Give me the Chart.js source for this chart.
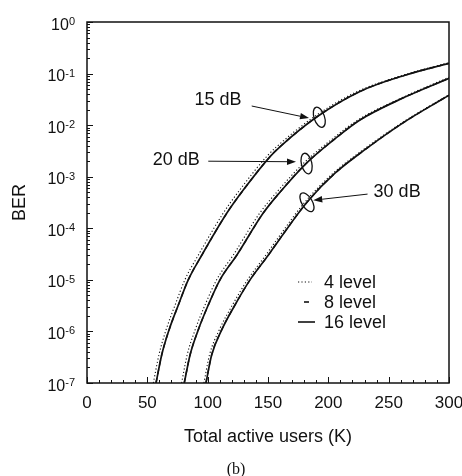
<!DOCTYPE html>
<html>
<head>
<meta charset="utf-8">
<script src="https://cdn.jsdelivr.net/npm/chart.js@4.4.1/dist/chart.umd.min.js"></script>
<style>
  html, body { margin: 0; padding: 0; background: #ffffff; }
  #wrap { width: 462px; height: 476px; }
</style>
</head>
<body>
<div id="wrap"><canvas id="ber" width="462" height="476"></canvas></div>
<script>
// BER versus number of active users, for SNR 15 / 20 / 30 dB and 4, 8, 16 levels.
// Users in thousands (K); BER values per curve.

// 15 dB
const users15 = [57.2, 61.9, 68.0, 75.7, 83.9, 95.1, 115.8, 129.5, 151.7, 159.9, 190.6, 226.2, 263.5, 300];
const ber15 = [1e-7, 3.5e-7, 1.07e-6, 3.25e-6, 1.0e-5, 3.0e-5, 1.95e-4, 5.5e-4, 2.45e-3, 3.8e-3, 1.45e-2, 4.5e-2, 9.3e-2, 0.158];
const users15L4 = [55.0, 59.6, 65.5, 73.0, 81.1, 92.2, 112.8, 126.5, 148.8, 157.1, 188.2, 224.2, 262.0, 300];
const ber15L4 = [1e-7, 3.5e-7, 1.07e-6, 3.25e-6, 1.0e-5, 3.0e-5, 1.95e-4, 5.5e-4, 2.45e-3, 3.8e-3, 1.45e-2, 4.5e-2, 9.3e-2, 0.163];

// 20 dB
const users20 = [80.6, 85.4, 92.2, 100.5, 110.2, 124.1, 145.9, 159.9, 181.5, 204.0, 226.2, 263.5, 300];
const ber20 = [1e-7, 3.5e-7, 1.07e-6, 3.25e-6, 1.0e-5, 3.0e-5, 1.95e-4, 5.0e-4, 1.8e-3, 5.1e-3, 1.26e-2, 3.5e-2, 8.1e-2];
const users20L4 = [78.4, 83.0, 89.6, 97.8, 107.4, 121.1, 143.0, 157.2, 179.2, 202.0, 224.5, 262.2, 300];
const ber20L4 = [1e-7, 3.5e-7, 1.07e-6, 3.25e-6, 1.0e-5, 3.0e-5, 1.95e-4, 5.0e-4, 1.8e-3, 5.1e-3, 1.26e-2, 3.5e-2, 8.5e-2];

// 30 dB
const users30 = [98.6, 103.3, 111.6, 122.6, 135.1, 150.2, 159.9, 182.3, 205.5, 231.8, 263.5, 300];
const ber30 = [1e-7, 3.5e-7, 1.07e-6, 3.25e-6, 1.0e-5, 3.0e-5, 6.3e-5, 3.2e-4, 1.17e-3, 3.55e-3, 1.17e-2, 3.8e-2];
const users30L4 = [96.9, 101.5, 109.6, 120.5, 133.0, 148.1, 157.9, 180.5, 204.0, 230.5, 262.5, 300];
const ber30L4 = [1e-7, 3.5e-7, 1.07e-6, 3.25e-6, 1.0e-5, 3.0e-5, 6.3e-5, 3.2e-4, 1.17e-3, 3.55e-3, 1.17e-2, 3.9e-2];

// Axis ticks
const xTickValues = [0, 50, 100, 150, 200, 250, 300];
const xMinorTicks = [10, 20, 30, 40, 60, 70, 80, 90, 110, 120, 130, 140, 160, 170, 180, 190, 210, 220, 230, 240, 260, 270, 280, 290];
const yExponents = [0, -1, -2, -3, -4, -5, -6, -7];
const yMinorMultipliers = [2, 3, 4, 5, 6, 7, 8, 9];

// Texts
const snrLabels = ['15 dB', '20 dB', '30 dB'];
const levelLabels = ['4 level', '8 level', '16 level'];
const xTitle = 'Total active users (K)';
const yTitle = 'BER';
const panelTag = '(b)';

const pts = (xs, ys) => xs.map((x, i) => ({ x: x, y: ys[i] }));

const SANS = '"Liberation Sans", Arial, Helvetica, sans-serif';

const styleDotted = { borderColor: '#111', borderWidth: 1.1, borderDash: [1.2, 2.2] };
const styleDashed = { borderColor: '#111', borderWidth: 1.4, borderDash: [5, 4] };
const styleSolid  = { borderColor: '#111', borderWidth: 1.7, borderDash: [] };

function curve(label, data, style) {
  return Object.assign({
    label: label,
    data: data,
    pointRadius: 0,
    fill: false,
    cubicInterpolationMode: 'monotone',
    borderCapStyle: 'butt'
  }, style);
}

const datasets = [
  curve('15 dB, 4 level', pts(users15L4, ber15L4), styleDotted),
  curve('15 dB, 8 level', pts(users15, ber15), styleDashed),
  curve('15 dB, 16 level', pts(users15, ber15), styleSolid),
  curve('20 dB, 4 level', pts(users20L4, ber20L4), styleDotted),
  curve('20 dB, 8 level', pts(users20, ber20), styleDashed),
  curve('20 dB, 16 level', pts(users20, ber20), styleSolid),
  curve('30 dB, 4 level', pts(users30L4, ber30L4), styleDotted),
  curve('30 dB, 8 level', pts(users30, ber30), styleDashed),
  curve('30 dB, 16 level', pts(users30, ber30), styleSolid)
];

// Callouts: label centre, arrow tail/head and ring centre, in data units
const callouts = [
  { text: snrLabels[0], label: [108.6, 3.1e-2], tail: [136.5, 2.35e-2], head: [184.0, 1.37e-2], ring: [192.5, 1.42e-2], tilt: -0.33 },
  { text: snrLabels[1], label: [74.0, 2.1e-3], tail: [100.5, 2.0e-3], head: [173.2, 1.95e-3], ring: [182.0, 1.8e-3], tilt: -0.23 },
  { text: snrLabels[2], label: [257.0, 5.1e-4], tail: [232.5, 4.6e-4], head: [187.5, 3.5e-4], ring: [182.3, 3.2e-4], tilt: -0.55 }
];

const decor = {
  id: 'decor',
  afterDatasetsDraw(chart) {
    const { ctx, chartArea: ca, scales: { x, y } } = chart;
    ctx.save();
    ctx.strokeStyle = '#111';
    ctx.fillStyle = '#111';

    // frame
    ctx.lineWidth = 1.5;
    ctx.strokeRect(ca.left, ca.top, ca.right - ca.left, ca.bottom - ca.top);

    // inward ticks on the left axis
    ctx.lineWidth = 1;
    ctx.beginPath();
    yExponents.forEach(e => {
      const py = Math.round(y.getPixelForValue(Math.pow(10, e))) + 0.5;
      ctx.moveTo(ca.left, py); ctx.lineTo(ca.left + 6, py);
      if (e > -7) {
        yMinorMultipliers.forEach(m => {
          const v = m * Math.pow(10, e - 1);
          const pm = Math.round(y.getPixelForValue(v)) + 0.5;
          ctx.moveTo(ca.left, pm); ctx.lineTo(ca.left + 3, pm);
        });
      }
    });
    // inward ticks on the bottom axis
    xTickValues.forEach(v => {
      const px = Math.round(x.getPixelForValue(v)) + 0.5;
      ctx.moveTo(px, ca.bottom); ctx.lineTo(px, ca.bottom - 6);
    });
    xMinorTicks.forEach(v => {
      const px = Math.round(x.getPixelForValue(v)) + 0.5;
      ctx.moveTo(px, ca.bottom); ctx.lineTo(px, ca.bottom - 3);
    });
    ctx.stroke();

    // callouts
    callouts.forEach(c => {
      const lx = x.getPixelForValue(c.label[0]), ly = y.getPixelForValue(c.label[1]);
      const tx = x.getPixelForValue(c.tail[0]), ty = y.getPixelForValue(c.tail[1]);
      const hx = x.getPixelForValue(c.head[0]), hy = y.getPixelForValue(c.head[1]);
      const rx = x.getPixelForValue(c.ring[0]), ry = y.getPixelForValue(c.ring[1]);

      ctx.font = '18px ' + SANS;
      ctx.textAlign = 'center';
      ctx.textBaseline = 'middle';
      ctx.fillText(c.text, lx, ly);

      const ang = Math.atan2(hy - ty, hx - tx);
      const len = 9, half = 3.2;
      const bx = hx - len * Math.cos(ang), by = hy - len * Math.sin(ang);
      ctx.lineWidth = 1;
      ctx.beginPath();
      ctx.moveTo(tx, ty); ctx.lineTo(bx, by);
      ctx.stroke();
      ctx.beginPath();
      ctx.moveTo(hx, hy);
      ctx.lineTo(bx + half * Math.sin(ang), by - half * Math.cos(ang));
      ctx.lineTo(bx - half * Math.sin(ang), by + half * Math.cos(ang));
      ctx.closePath();
      ctx.fill();

      ctx.lineWidth = 1.3;
      ctx.beginPath();
      ctx.ellipse(rx, ry, 5.2, 10.5, c.tilt, 0, Math.PI * 2);
      ctx.stroke();
    });

    // key
    const rows = [ca.top + 260, ca.top + 280, ca.top + 300];
    const sx = ca.left + 211;
    ctx.lineWidth = 1.1;
    ctx.setLineDash([1.2, 2.2]);
    ctx.beginPath(); ctx.moveTo(sx, rows[0]); ctx.lineTo(sx + 14, rows[0]); ctx.stroke();
    ctx.setLineDash([]);
    ctx.lineWidth = 1.6;
    ctx.beginPath(); ctx.moveTo(sx + 6, rows[1]); ctx.lineTo(sx + 11, rows[1]); ctx.stroke();
    ctx.beginPath(); ctx.moveTo(sx, rows[2]); ctx.lineTo(sx + 17, rows[2]); ctx.stroke();
    ctx.font = '18px ' + SANS;
    ctx.textAlign = 'left';
    ctx.textBaseline = 'middle';
    levelLabels.forEach((t, i) => ctx.fillText(t, ca.left + 237, rows[i] + 1));

    ctx.restore();
  },
  afterDraw(chart) {
    const { ctx, chartArea: ca, scales: { x, y } } = chart;
    ctx.save();
    ctx.fillStyle = '#111';

    // y tick labels as 10 with a raised exponent
    yExponents.forEach(e => {
      const py = y.getPixelForValue(Math.pow(10, e));
      const exp = e === 0 ? '0' : '-' + String(-e);
      ctx.font = '11px ' + SANS;
      const ew = ctx.measureText(exp).width;
      const right = ca.left - 12;
      ctx.textAlign = 'left';
      ctx.textBaseline = 'alphabetic';
      ctx.fillText(exp, right - ew, py + 3);
      ctx.font = '16px ' + SANS;
      ctx.textAlign = 'right';
      ctx.fillText('10', right - ew, py + 7.5);
    });

    // y title
    ctx.save();
    ctx.translate(20, (ca.top + ca.bottom) / 2);
    ctx.rotate(-Math.PI / 2);
    ctx.font = '18px ' + SANS;
    ctx.textAlign = 'center';
    ctx.textBaseline = 'middle';
    ctx.fillText(yTitle, 0, 0);
    ctx.restore();

    // panel tag
    ctx.font = '16px "Liberation Serif", "Times New Roman", serif';
    ctx.textAlign = 'center';
    ctx.textBaseline = 'middle';
    ctx.fillText(panelTag, 236, 470);

    ctx.restore();
  }
};

new Chart(document.getElementById('ber'), {
  type: 'line',
  data: { datasets: datasets },
  options: {
    responsive: false,
    animation: false,
    devicePixelRatio: 1,
    layout: { padding: { top: 22, right: 13, bottom: 0, left: 0 } },
    plugins: { legend: { display: false }, tooltip: { enabled: false } },
    scales: {
      x: {
        type: 'linear',
        min: 0,
        max: 300,
        afterBuildTicks: s => { s.ticks = xTickValues.map(v => ({ value: v })); },
        afterFit: s => { s.height = 93; s.paddingLeft = 0; s.paddingRight = 0; },
        grid: { display: false, drawTicks: false },
        border: { display: false },
        ticks: { color: '#111', font: { family: SANS, size: 17 }, padding: 10, maxRotation: 0, autoSkip: false },
        title: { display: true, text: xTitle, color: '#111', font: { family: SANS, size: 18 }, padding: { top: 0, bottom: 28 } }
      },
      y: {
        type: 'logarithmic',
        min: 1e-7,
        max: 1,
        afterFit: s => { s.width = 87; },
        grid: { display: false, drawTicks: false },
        border: { display: false },
        ticks: { display: false }
      }
    }
  },
  plugins: [decor]
});
</script>
</body>
</html>
